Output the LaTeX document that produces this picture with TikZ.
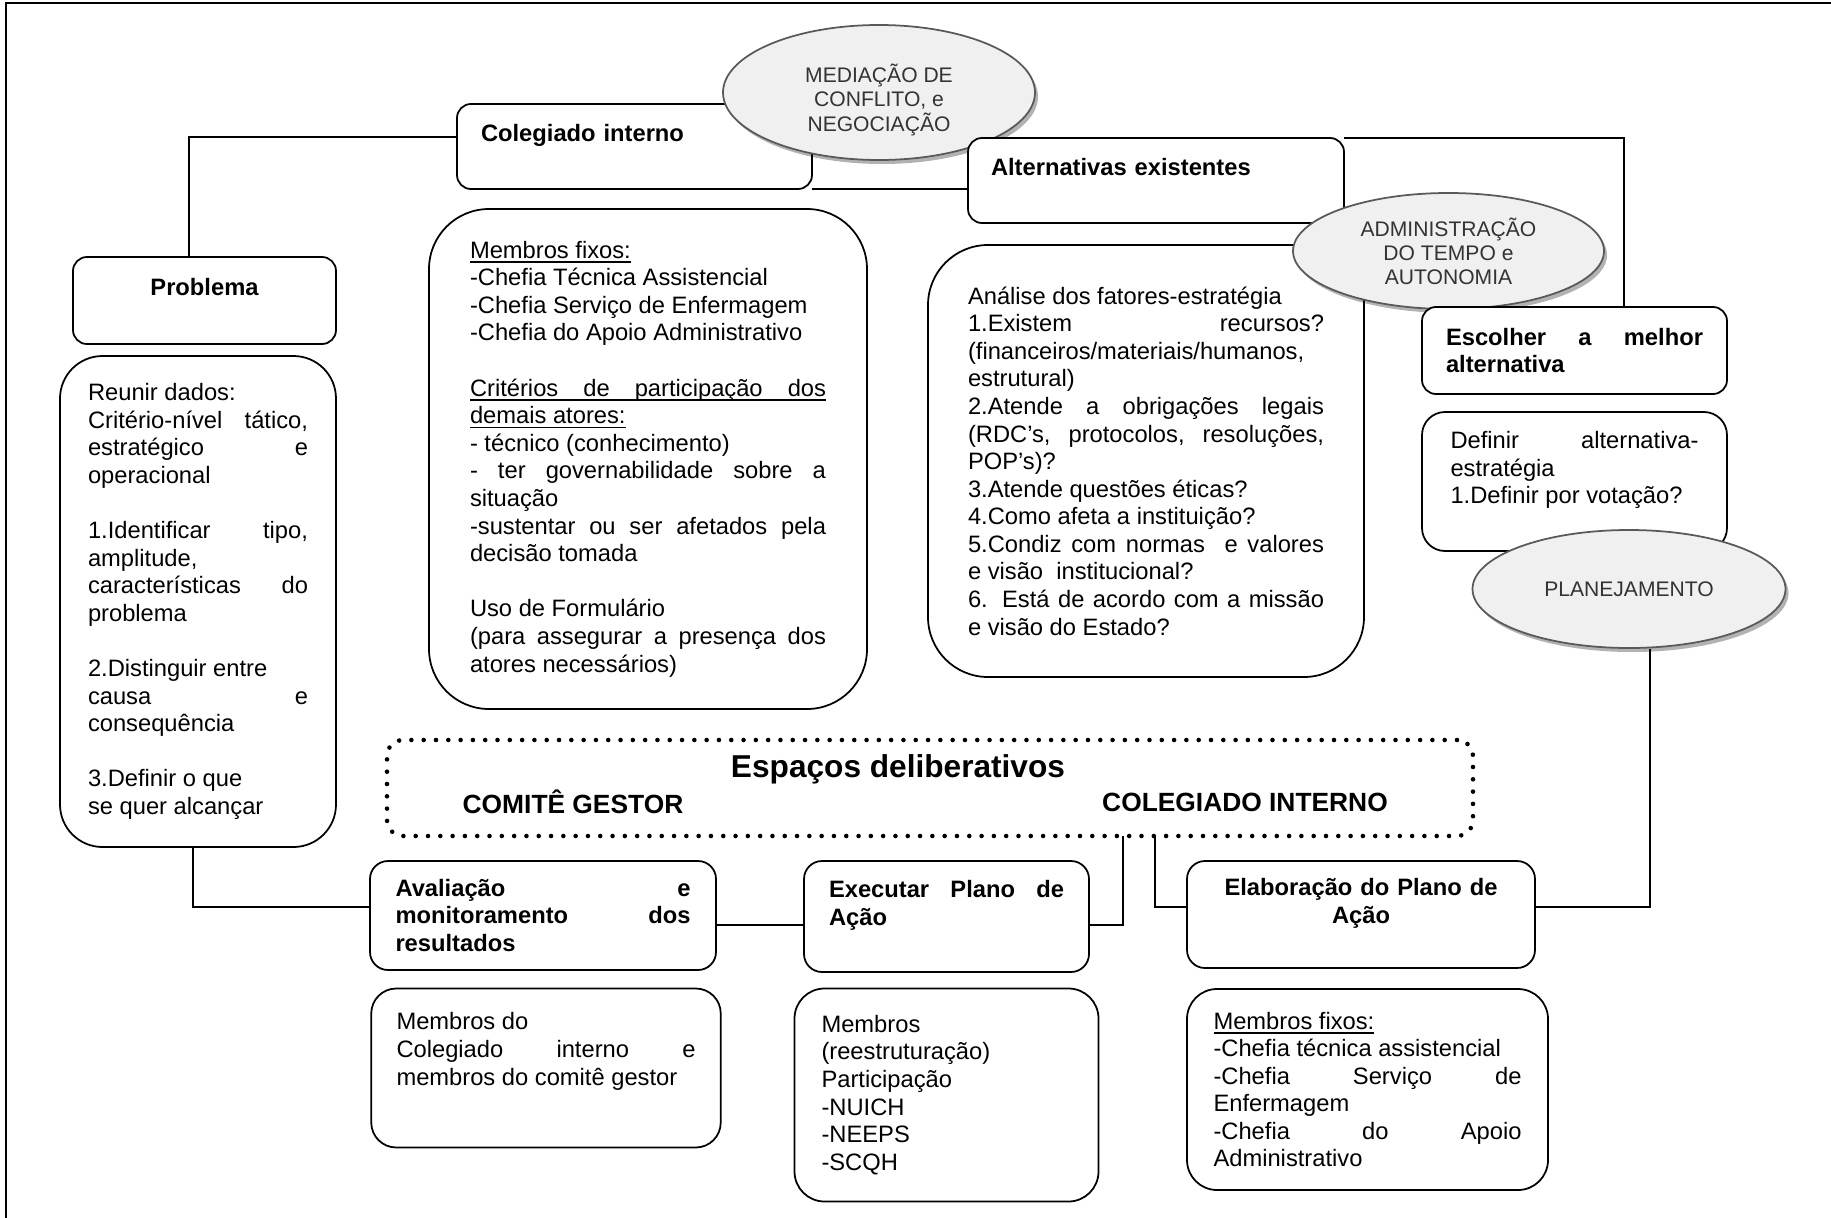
\documentclass[tikz,border=0pt]{standalone}
\usepackage{fontspec}
\setmainfont{Liberation Sans}
\usepackage{tikz}
\usetikzlibrary{positioning,shapes.geometric,shadows}
\newcommand{\boxfont}{\fontsize{13.5}{15.7}\selectfont}
\newcommand{\ovalfont}{\fontsize{12}{13.7}\selectfont}
\newsavebox{\ulcaixa}
\newcommand{\sublinha}[1]{\sbox{\ulcaixa}{#1}\rlap{\vrule height -1.8pt depth 2.6pt width \wd\ulcaixa}\usebox{\ulcaixa}}
\newcommand{\ulesp}{\leaders\vrule height -1.8pt depth 2.6pt\hskip 0.28em plus 1em\relax}
\tolerance=10000
\hbadness=10000
\hyphenpenalty=10000

\begin{document}
\begin{tikzpicture}[
		node distance=2cm,
		font=\boxfont,
		bloco/.style={
			rectangle,
			draw=black,
			line width=1pt,
			fill=white,
			inner sep=0pt,
			outer sep=0pt,
			align=justify
		},
		titulo/.style={
			bloco,
			font=\boxfont\bfseries,
			rounded corners=0.28cm
		},
		elipse/.style={
			ellipse,
			draw=gray!70!black,
			line width=1pt,
			fill=gray!12,
			text=gray!40!black,
			font=\ovalfont,
			align=center,
			inner sep=0pt,
			drop shadow={shadow xshift=0.06cm, shadow yshift=-0.08cm, fill=black, opacity=0.3}
		},
		pontilhado/.style={
			draw=black,
			line width=2.6pt,
			line cap=round,
			dash pattern=on 0pt off 7pt,
			rounded corners=0.32cm,
			inner sep=0pt,
			outer sep=0pt
		},
		linha/.style={
			draw,
			line width=0.8pt
		}
		]
		\useasboundingbox (0,0) rectangle (36.62,-24.36);
		\draw [line width=1.1pt] (0.12,-24.36) -- (0.12,-0.06) -- (36.62,-0.06);
		
		% We start by placing the blocks
		
		\node [titulo, minimum width=7.1cm, minimum height=1.7cm, text width=6.14cm, align=left] (colegiado) at (12.69,-2.93)
		{Colegiado interno\\ \mbox{}};
		
		\node [bloco, below of=colegiado, xshift=0.27cm, yshift=-4.25cm, minimum width=8.76cm, minimum height=10cm, text width=7.12cm, rounded corners=1.2cm] (membros1)
		{%
			\sublinha{Membros fixos:}\\
			-Chefia Técnica Assistencial\\
			-Chefia Serviço de Enfermagem\\
			-Chefia do Apoio Administrativo\\[15.7pt]
			\sublinha{Critérios}\ulesp\sublinha{de}\ulesp\sublinha{participação}\ulesp\sublinha{dos}\linebreak
			\sublinha{demais atores:}\\
			- técnico (conhecimento)\\
			- ter governabilidade sobre a\linebreak
			situação\\
			-sustentar ou ser afetados pela\linebreak
			decisão tomada\\[15.7pt]
			Uso de Formulário\\
			(para assegurar a presença dos\linebreak
			atores necessários)
		};
		
		\node [elipse, minimum width=6.24cm, minimum height=2.7cm] (mediacao) at (17.58,-1.85)
		{\rule{0pt}{19pt}MEDIAÇÃO DE\\ CONFLITO, e\\ NEGOCIAÇÃO};
		
		\node [titulo, minimum width=7.52cm, minimum height=1.7cm, text width=6.6cm, align=left] (alternativas) at (23.12,-3.61)
		{Alternativas existentes\\ \mbox{}};
		
		\node [bloco, below of=alternativas, xshift=-0.2cm, yshift=-3.61cm, minimum width=8.72cm, minimum height=8.64cm, text width=7.12cm, rounded corners=1.2cm] (analise)
		{%
			Análise dos fatores-estratégia\\
			1.Existem recursos?\linebreak
			(financeiros/materiais/humanos,\linebreak
			estrutural)\\
			2.Atende a obrigações legais\linebreak
			(RDC’s, protocolos, resoluções,\linebreak
			POP’s)?\\
			3.Atende questões éticas?\\
			4.Como afeta a instituição?\\
			5.Condiz com normas\ \ e valores\linebreak
			e visão\ \ institucional?\\
			6. Está de acordo com a missão\linebreak
			e visão do Estado?
		};
		
		\node [elipse, minimum width=6.22cm, minimum height=2.32cm] (administracao) at (28.97,-5.02)
		{ADMINISTRAÇÃO\\ DO TEMPO e\\ AUTONOMIA};
		
		\node [titulo, minimum width=5.26cm, minimum height=1.74cm, text width=4.6cm, align=center] (problema) at (4.09,-6.01)
		{Problema\\ \mbox{}};
		
		\node [bloco, below of=problema, xshift=-0.13cm, yshift=-4.02cm, minimum width=5.52cm, minimum height=9.82cm, text width=4.4cm, rounded corners=0.85cm] (reunir)
		{%
			Reunir dados:\\
			Critério-nível tático,\linebreak
			estratégico e\linebreak
			operacional\\[15.7pt]
			1.Identificar tipo,\linebreak
			amplitude,\linebreak
			características do\linebreak
			problema\\[15.7pt]
			2.Distinguir entre\\
			causa e\linebreak
			consequência\\[15.7pt]
			3.Definir o que\\
			se quer alcançar
		};
		
		\node [titulo, minimum width=6.1cm, minimum height=1.74cm, text width=5.14cm] (escolher) at (31.49,-7.01)
		{Escolher a melhor\linebreak alternativa};
		
		\node [bloco, below of=escolher, yshift=-0.62cm, minimum width=6.1cm, minimum height=2.78cm, text width=4.96cm, rounded corners=0.46cm] (definir)
		{Definir alternativa-\linebreak estratégia\\ 1.Definir por votação?\\ \mbox{}};
		
		\node [elipse, minimum width=6.26cm, minimum height=2.36cm] (planejamento) at (32.58,-11.78)
		{PLANEJAMENTO};
		
		% espacos deliberativos
		\node [pontilhado, minimum width=21.72cm, minimum height=1.92cm] (espacos) at (18.6,-15.76) {};
		\node [font=\fontsize{18}{20}\selectfont\bfseries] (deliberativos) at (17.96,-15.39) {Espaços deliberativos};
		\node [font=\fontsize{15}{17}\selectfont\bfseries] (comite) at (11.46,-16.04) {COMITÊ GESTOR};
		\node [font=\fontsize{15}{17}\selectfont\bfseries] (colegiadoint) at (24.9,-16.04) {COLEGIADO INTERNO};
		
		\node [titulo, minimum width=6.92cm, minimum height=2.18cm, text width=5.9cm, rounded corners=0.36cm] (avaliacao) at (10.86,-18.31)
		{Avaliação e\linebreak monitoramento dos\linebreak resultados};
		
		\node [titulo, minimum width=5.7cm, minimum height=2.22cm, text width=4.7cm, rounded corners=0.36cm] (executar) at (18.93,-18.33)
		{Executar Plano de\linebreak Ação\\ \mbox{}};
		
		\node [titulo, minimum width=6.96cm, minimum height=2.14cm, text width=6.2cm, align=center, rounded corners=0.36cm] (elaboracao) at (27.22,-18.29)
		{Elaboração do Plano de\\ Ação\\ \mbox{}};
		
		\node [bloco, below of=avaliacao, xshift=0.06cm, yshift=-1.05cm, minimum width=6.99cm, minimum height=3.18cm, text width=5.98cm, rounded corners=0.5cm] (membros2)
		{Membros do\\ Colegiado interno e\linebreak membros do comitê gestor\\[6pt] \mbox{}};
		
		\node [bloco, below of=executar, yshift=-1.57cm, minimum width=6.08cm, minimum height=4.26cm, text width=5cm, align=left, rounded corners=0.6cm] (membros3)
		{Membros\\ (reestruturação)\\ Participação\\ -NUICH\\ -NEEPS\\ -SCQH};
		
		\node [bloco, below of=elaboracao, xshift=0.13cm, yshift=-1.5cm, minimum width=7.22cm, minimum height=4.02cm, text width=6.16cm, rounded corners=0.6cm] (membros4)
		{%
			\sublinha{Membros fixos:}\\
			-Chefia técnica assistencial\\
			-Chefia Serviço de\linebreak
			Enfermagem\\
			-Chefia do Apoio\linebreak
			Administrativo
		};
		
		% ligacoes
		\draw [linha] ([xshift=-0.31cm]problema.north) |- ([yshift=0.19cm]colegiado.west);
		\draw [linha] (colegiado.south east) -- (colegiado.south east -| alternativas.west);
		\draw [linha] (alternativas.north east) -| ([xshift=0.99cm]escolher.north);
		\draw [linha] ([xshift=0.42cm]planejamento.south) |- ([yshift=0.15cm]elaboracao.east);
		\draw [linha] ([xshift=4.5cm]espacos.south) |- ([yshift=0.15cm]elaboracao.west);
		\draw [linha] ([xshift=3.86cm]espacos.south) |- ([yshift=-0.17cm]executar.east);
		\draw [linha] ([yshift=-0.19cm]avaliacao.east) -- ([yshift=-0.19cm]avaliacao.east -| executar.west);
		\draw [linha] ([xshift=-0.1cm]reunir.south) |- ([yshift=0.17cm]avaliacao.west);
		
\end{tikzpicture}
\end{document}
